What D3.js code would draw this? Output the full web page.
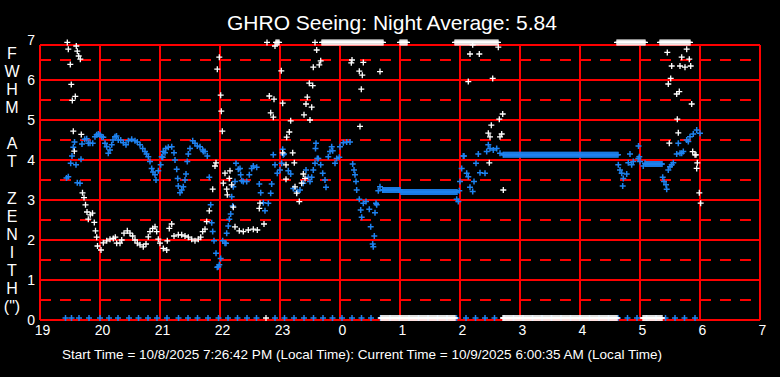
<!DOCTYPE html>
<html>
<head>
<meta charset="utf-8">
<script src="https://cdn.jsdelivr.net/npm/d3@7"></script>
<style>
  html, body { margin: 0; padding: 0; background: #000; }
  svg { display: block; }
</style>
</head>
<body>
<svg id="seeing"></svg>
<script>
// times are minutes after 19:00 local, values are FWHM at zenith (arcsec)
var titleText = "GHRO Seeing: Night Average: 5.84"
var footerText = "Start Time = 10/8/2025 7:26:42 PM (Local Time): Current Time = 10/9/2025 6:00:35 AM (Local Time)"
var yLabelChars = ["F","W","H","M","","A","T","","Z","E","N","I","T","H","(\")"]
var hourTicks = [0,60,120,180,240,300,360,420,480,540,600,660,720]
var yTicks = [0,1,2,3,4,5,6,7]

// white readings
var whitePts = [[27.3,6.94],[28.3,6.77],[30.3,6.39],[31.3,5.89],[32.3,5.49],[33.3,4.72],[34.3,4.22],[35.3,5.59],[36.3,6.85],[37.3,6.72],[38.7,6.6],[40.3,6.52],[41.3,4.64],[42.5,3.18],[44,3.06],[45.5,2.88],[47,2.7],[48.3,2.52],[50.3,2.63],[52.5,2.67],[54.3,2.44],[55.5,2.23],[56.7,2.07],[57.5,1.85],[61,1.75],[63.3,1.93],[66.7,1.98],[70,2.02],[73.3,2.04],[75.3,2.07],[76.7,1.92],[80,1.92],[81.7,2.0],[84,2.17],[87.3,2.23],[90,2.17],[92.7,2.1],[95,2.0],[97.3,1.92],[100,1.88],[103.3,1.83],[106,1.9],[108.3,2.08],[110,2.21],[112.7,2.29],[115,2.33],[116.7,2.21],[118.3,2.02],[120,1.92],[123.3,1.79],[126.7,1.75],[127.3,1.98],[129.3,2.29],[131.7,2.4],[134,2.1],[138.3,2.13],[141.7,2.13],[145,2.1],[148.3,2.07],[151.7,2.02],[155,1.98],[158.3,2.02],[160.7,2.07],[162.7,2.21],[165,2.27],[166.7,2.46],[169.3,2.73],[172.7,3.27],[175,3.85],[176,3.93],[177.3,6.27],[179.3,6.57],[180.7,5.62],[181.3,5.22],[182.3,4.72],[183.3,3.42],[185,3.67],[186.7,3.27],[187.3,3.13],[189.3,3.54],[190,3.73],[191.7,3.38],[193.3,2.82],[195,2.33],[199.3,2.23],[203.3,2.21],[208.3,2.25],[213.3,2.27],[217.3,2.25],[219.3,2.79],[220,2.92],[224,2.4],[229.3,5.6],[230.7,5.18],[233.3,5.07],[234,5.52],[235,6.85],[241.3,6.23],[242.7,5.42],[242.7,4.18],[246,3.88],[246,3.52],[246.7,4.57],[249.3,4.7],[250.7,4.98],[252.7,4.18],[254.3,3.93],[255,3.33],[256.7,3.17],[259.3,2.96],[261.7,3.42],[263.3,3.65],[264,5.13],[265,3.54],[266,5.4],[267.3,5.57],[269.3,5.92],[270,5.0],[271.7,5.32],[272.7,5.86],[273.3,6.32],[276.7,6.75],[279.3,6.38],[280.7,6.48],[311.3,6.43],[312,6.5],[319.3,6.22],[320,4.84],[321.3,5.77],[322.3,6.12],[323.3,6.44],[340,6.21],[428.3,5.96],[430,6.65],[432.7,6.88],[439.3,6.65],[448.3,4.67],[449.3,3.93],[450,4.58],[451.3,4.87],[452.7,6.04],[458.3,6.82],[459.3,5.02],[460,4.58],[461.7,4.65],[462.7,5.15],[463.3,3.25],[627.3,6.69],[628.3,5.9],[629.3,4.42],[630.7,6.04],[631.7,6.35],[636.7,5.65],[637.3,5.02],[638.3,4.68],[639.3,5.71],[640,6.35],[641.7,6.57],[645,6.32],[646.7,6.77],[649.3,6.52],[650.7,6.35],[651.7,5.4],[652.7,4.21],[655,4.13],[656,4.13],[656.7,3.79],[657.3,3.93],[659.3,3.18],[660.7,2.92]]
// white readings logged every minute pinned at the top (6.94) or at zero: [from, to]
var whiteTopRuns = [[227,227],[236,239],[275,275],[282,343],[360,367],[415,458],[577,605],[620,650]]
var whiteZeroRuns = [[226,226],[341,415],[463,577],[603,622]]
var whiteTopValue = 6.94

// blue readings
var bluePts = [[26.5,3.55],[28.3,3.58],[30.7,3.92],[32,4.1],[33.3,4.32],[34.5,4.45],[36,3.88],[37.3,3.43],[40,3.42],[41,4.02],[42,4.4],[44.7,4.52],[46.7,4.53],[48.3,4.42],[50,4.42],[52.7,4.42],[55,4.58],[56.7,4.63],[58.3,4.65],[60,4.63],[61.7,4.58],[63.3,4.57],[65,4.42],[66.7,4.33],[68.3,4.17],[70,4.25],[71.7,4.38],[73,4.5],[75,4.58],[76.5,4.6],[78.3,4.5],[80.7,4.5],[83.3,4.43],[86,4.38],[88.3,4.48],[91.7,4.52],[95,4.48],[97.3,4.45],[100,4.38],[102.7,4.29],[105,4.21],[106.5,4.15],[108.3,4.08],[110,3.96],[111.7,3.79],[113,3.7],[115,3.63],[116,3.5],[118.3,3.73],[120.7,3.88],[121.7,4.08],[122.7,4.07],[123.3,4.21],[125,4.18],[125.7,4.29],[128.3,4.32],[131.7,4.33],[134,4.18],[135,4.0],[136.7,3.77],[137.7,3.54],[138.3,3.35],[140,3.18],[141.7,3.25],[143.3,3.33],[145,3.5],[146,3.65],[147.3,3.96],[148.3,4.15],[150,4.29],[152.7,4.48],[155,4.42],[157.3,4.35],[160,4.33],[162.7,4.25],[163.3,4.21],[165,4.21],[167.3,4.1],[169.3,3.57],[170.7,2.88],[171.7,2.43],[172.7,2.21],[174,1.98],[176,1.67],[177.3,1.32],[178.3,1.33],[179.3,1.38],[180.7,1.54],[182.7,1.98],[185,1.92],[186,1.92],[186.7,2.17],[188.3,2.35],[189.3,2.52],[190.7,2.65],[191.7,3.08],[192.7,2.85],[193.3,3.33],[195,3.46],[196,3.92],[198.3,3.77],[200,3.79],[200.7,3.63],[201.7,3.48],[203.3,3.46],[206.7,3.46],[209.3,3.63],[211.7,3.79],[213.3,3.85],[216.7,3.82],[219.3,3.4],[220.7,3.18],[223.3,2.93],[225,2.73],[228.3,2.92],[230.7,3.17],[231.7,3.4],[233.3,4.13],[235,3.88],[237.3,3.67],[240,3.75],[241.7,3.92],[242.7,4.27],[243.3,4.13],[244,4.15],[248.3,3.73],[250.7,3.65],[253.3,3.29],[257.3,3.21],[260,3.25],[263.3,3.42],[266,3.75],[268.3,3.57],[270,3.46],[271.7,3.57],[273.3,3.75],[275,3.92],[275.5,4.29],[276,4.42],[277.3,4.04],[278.3,4.04],[280.7,3.88],[282.7,3.67],[285,3.5],[286,3.32],[288.3,4.08],[290,4.21],[291.7,4.33],[292.7,4.23],[295,3.92],[296.7,4.04],[299.3,4.07],[300,4.33],[303.3,4.43],[306.7,4.45],[310,4.45],[312.7,3.9],[314,3.75],[315,3.63],[316,3.46],[316.7,3.25],[319.3,3.02],[320.7,2.75],[321.7,2.57],[323.3,2.92],[326,2.96],[329.3,2.77],[330.7,2.33],[332.7,1.9],[333.3,1.83],[334.3,2.1],[335,2.68],[336,2.92],[336.7,2.88],[338.3,3.23],[340,3.33],[342.7,3.25],[416.7,3.02],[418.3,2.96],[419.3,3.23],[420,3.46],[421.7,3.79],[423.3,4.1],[424,4.1],[426.7,3.67],[428.3,3.58],[430,3.32],[432.7,3.21],[434,3.46],[436,3.92],[438.3,4.15],[440,3.68],[445,3.67],[446.7,4.21],[448.3,4.38],[450,4.29],[453.3,4.25],[456.7,4.29],[460,4.17],[463.3,4.13],[578.3,3.88],[580,3.75],[581.7,3.67],[582.7,3.35],[583.3,3.54],[586.7,3.65],[588.3,3.93],[590,4.15],[591.7,3.88],[593.3,3.96],[598.3,4.04],[598.5,4.35],[599.3,4.08],[600,3.96],[603.3,3.85],[605,3.92],[622.7,3.57],[624,3.46],[626,3.38],[626.7,3.27],[628.3,3.75],[630,3.83],[631.7,3.88],[633.3,3.93],[636.7,4.15],[638.3,4.42],[640,4.17],[641.7,4.17],[643.3,4.21],[646.7,4.5],[648.3,4.46],[650,4.58],[653.3,4.65],[656.7,4.75],[660,4.67]]
// blue readings logged every minute at a steady value: [from, to, value]
var blueFlatRuns = [[343,360,3.25],[361,417,3.2],[464,578,4.13],[606,622,3.9]]
// blue readings at zero along the bottom (minutes)
var blueZeroMin = [25.5,31.5,39,49,60,69,78,89,98.5,108,117,127,138.5,148,157.5,168,178.5,188,197.5,207,216.5,235,244.5,254,264,273.5,283,292.5,302,312,321.5,331,340.5,350,359.5,369,378.5,388,397.5,407,416.5,426,435.5,445,454.5,464,473.5,483,492.5,502,511.5,521,530.5,540,549.5,559,568.5,578,587.5,597,606.5,616,625.5,635,644.5,655]

var dimensions = {
    width: 780,
    height: 377,
    margin: { top: 45, bottom: 57, left: 40, right: 20 }
}
var font = "'Liberation Sans', Arial, sans-serif"

var svg = d3.select("#seeing")
    .attr("width", dimensions.width)
    .attr("height", dimensions.height)

svg.append("rect")
    .attr("width", dimensions.width)
    .attr("height", dimensions.height)
    .attr("fill", "black")

var xScale = d3.scaleLinear()
    .domain([0, 720])
    .range([dimensions.margin.left, dimensions.width - dimensions.margin.right])

var yScale = d3.scaleLinear()
    .domain([0, 7])
    .range([dimensions.height - dimensions.margin.bottom, 40])

var frameTop = yScale(6.875)

// grid
var grid = svg.append("g")
    .attr("stroke", "#ff0000")
    .attr("stroke-width", 1.5)
    .attr("shape-rendering", "crispEdges")
grid.selectAll("line.v")
    .data(hourTicks)
    .enter().append("line")
    .attr("x1", d => xScale(d)).attr("x2", d => xScale(d))
    .attr("y1", yScale(0)).attr("y2", frameTop)
grid.selectAll("line.h")
    .data([0,1,2,3,4,5,6,6.875])
    .enter().append("line")
    .attr("x1", xScale(0)).attr("x2", xScale(720))
    .attr("y1", d => yScale(d)).attr("y2", d => yScale(d))
grid.selectAll("line.d")
    .data([0.5,1.5,2.5,3.5,4.5,5.5,6.5])
    .enter().append("line")
    .attr("x1", xScale(0)).attr("x2", xScale(720))
    .attr("y1", d => yScale(d)).attr("y2", d => yScale(d))
    .attr("stroke-dasharray", "11,9")

// axes
var xAxisGen = d3.axisBottom(xScale)
    .tickValues(hourTicks)
    .tickSize(0)
    .tickPadding(5)
    .tickFormat(d => (19 + d / 60) % 24)
var xAxis = svg.append("g")
    .attr("transform", "translate(2," + yScale(0) + ")")
    .call(xAxisGen)
xAxis.select(".domain").remove()
xAxis.selectAll("text")
    .attr("fill", "white")
    .style("font-family", font)
    .style("font-size", "14px")

var yAxisGen = d3.axisLeft(yScale)
    .tickValues(yTicks)
    .tickSize(0)
    .tickPadding(5)
    .tickFormat(d3.format("d"))
var yAxis = svg.append("g")
    .attr("transform", "translate(" + dimensions.margin.left + ",0)")
    .call(yAxisGen)
yAxis.select(".domain").remove()
yAxis.selectAll("text")
    .attr("fill", "white")
    .style("font-family", font)
    .style("font-size", "14px")

// vertical y label
svg.append("g").selectAll("text")
    .data(yLabelChars)
    .enter().append("text")
    .attr("x", 12)
    .attr("y", (d, i) => 58.5 + i * 18.14)
    .attr("text-anchor", "middle")
    .attr("fill", "white")
    .style("font-family", font)
    .style("font-size", "16px")
    .text(d => d)

svg.append("text")
    .attr("x", 392)
    .attr("y", 30)
    .attr("text-anchor", "middle")
    .attr("fill", "white")
    .style("font-family", font)
    .style("font-size", "21px")
    .text(titleText)

svg.append("text")
    .attr("x", 62)
    .attr("y", 359)
    .attr("textLength", 600)
    .attr("lengthAdjust", "spacingAndGlyphs")
    .attr("fill", "white")
    .style("font-family", font)
    .style("font-size", "13px")
    .text(footerText)

// expand the per-minute runs
var blueAll = bluePts.slice()
blueFlatRuns.forEach(function(r){
    for (var m = r[0]; m <= r[1]; m++) blueAll.push([m, r[2]])
})
blueZeroMin.forEach(function(m){ blueAll.push([m, 0.05]) })

var whiteAll = whitePts.slice()
whiteTopRuns.forEach(function(r){
    for (var m = r[0]; m <= r[1]; m++) whiteAll.push([m, whiteTopValue])
})
whiteZeroRuns.forEach(function(r){
    for (var m = r[0]; m <= r[1]; m++) whiteAll.push([m, 0.05])
})

var plus = "M-3,0H3M0,-3V3"

svg.append("g")
    .selectAll("path")
    .data(blueAll)
    .enter()
    .append("path")
    .attr("d", plus)
    .attr("transform", d => "translate(" + xScale(d[0]) + "," + yScale(d[1]) + ")")
    .attr("stroke", "#1e82f0")
    .attr("stroke-width", 1.5)
    .attr("fill", "none")

svg.append("g")
    .selectAll("path")
    .data(whiteAll)
    .enter()
    .append("path")
    .attr("d", plus)
    .attr("transform", d => "translate(" + xScale(d[0]) + "," + yScale(d[1]) + ")")
    .attr("stroke", "white")
    .attr("stroke-width", 1.3)
    .attr("fill", "none")
</script>
</body>
</html>
